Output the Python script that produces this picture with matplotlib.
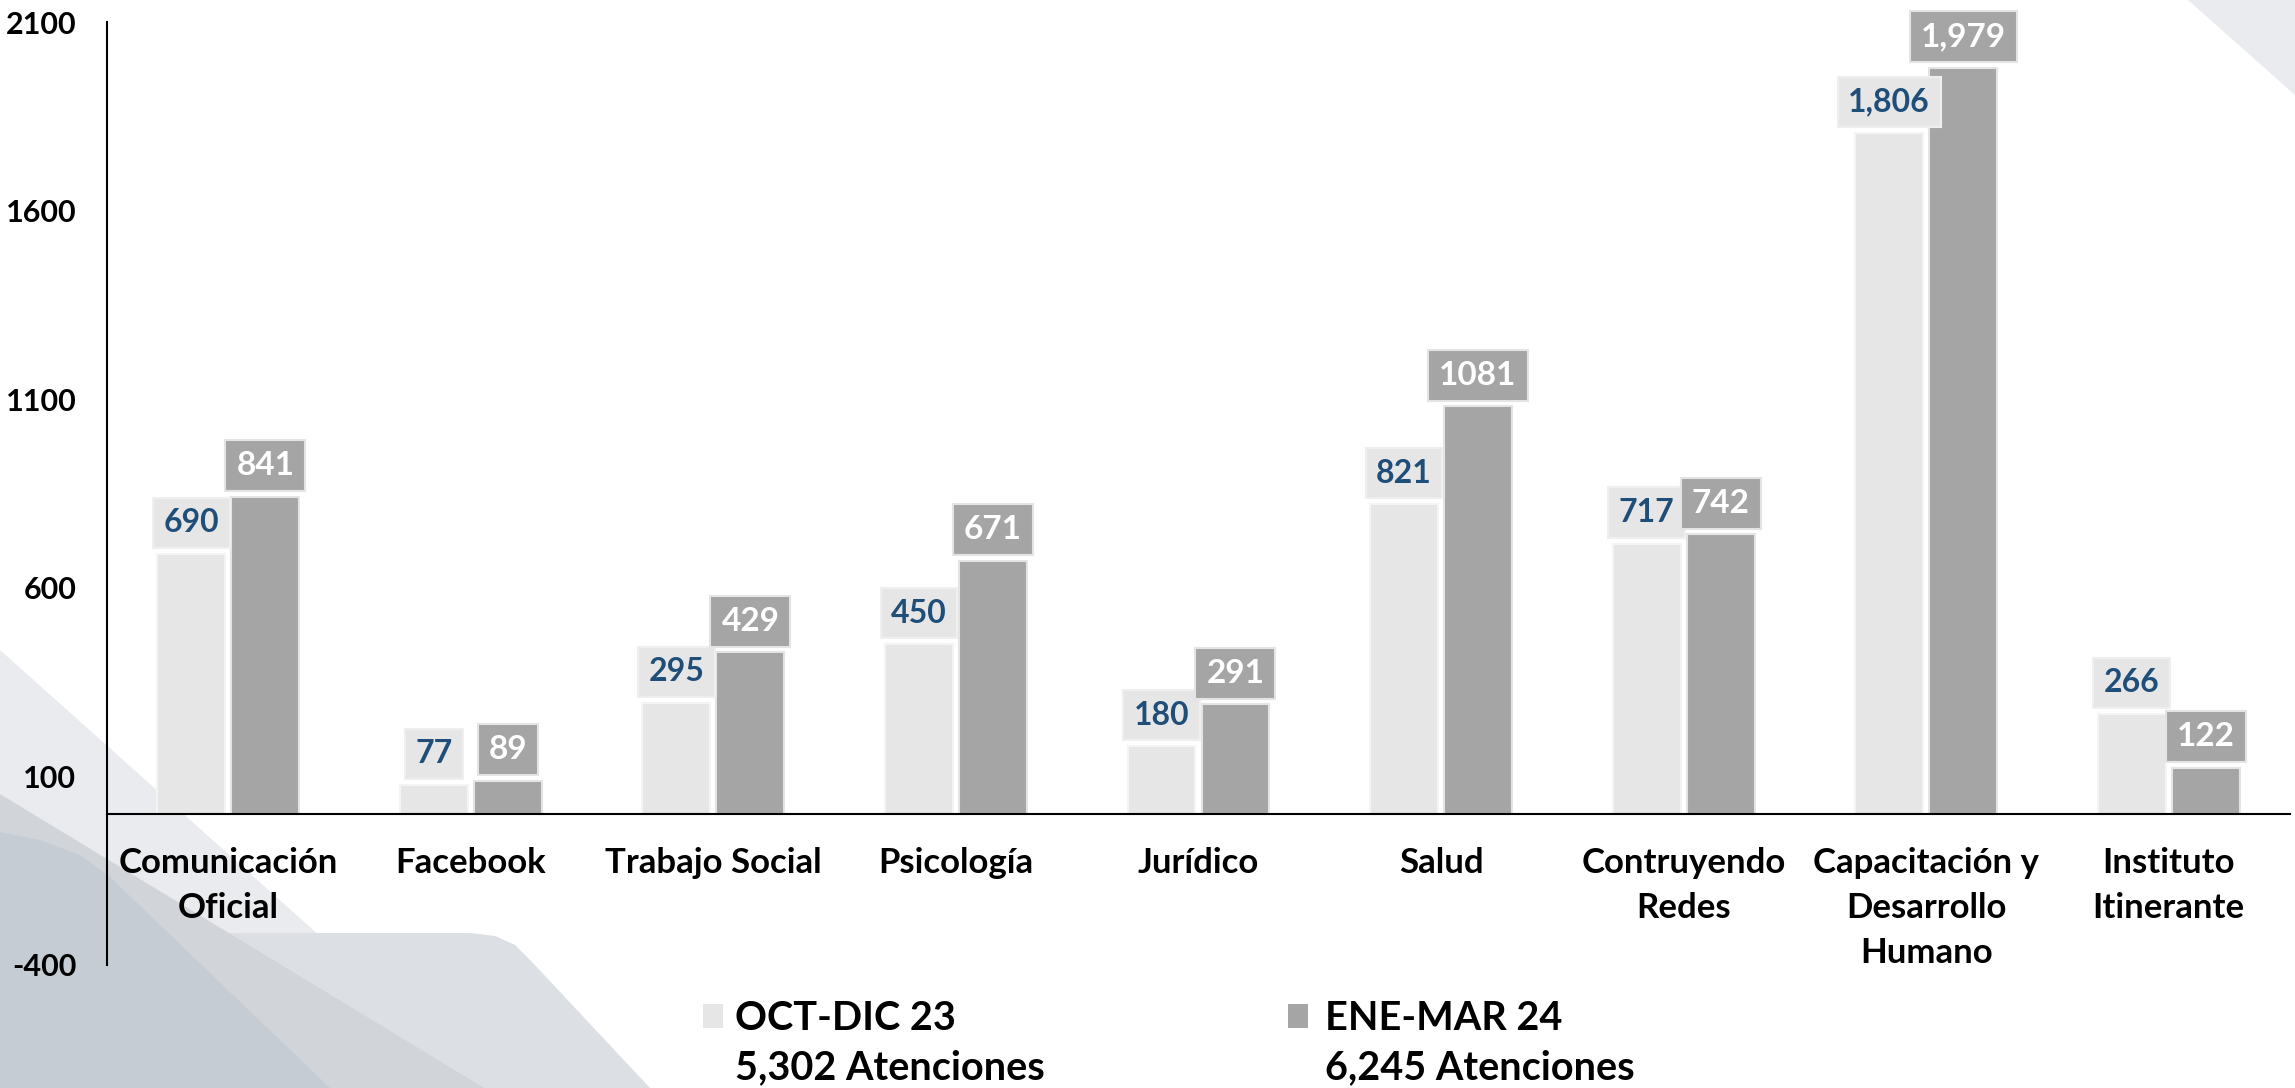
import matplotlib
matplotlib.use('Agg')
import matplotlib.pyplot as plt
from matplotlib.patches import Polygon, Rectangle
import numpy as np

plt.rcParams['font.family'] = ['Lato', 'DejaVu Sans']
plt.rcParams['font.weight'] = 'bold'
plt.rcParams['axes.unicode_minus'] = False

# datos
categorias = ['Comunicación\nOficial', 'Facebook', 'Trabajo Social', 'Psicología',
              'Jurídico', 'Salud', 'Contruyendo\nRedes',
              'Capacitación y\nDesarrollo\nHumano', 'Instituto\nItinerante']
oct_dic = [690, 77, 295, 450, 180, 821, 717, 1806, 266]
ene_mar = [841, 89, 429, 671, 291, 1081, 742, 1979, 122]
etiquetas_oct = ['690', '77', '295', '450', '180', '821', '717', '1,806', '266']
etiquetas_ene = ['841', '89', '429', '671', '291', '1081', '742', '1,979', '122']
series = ['OCT-DIC 23', 'ENE-MAR 24']
yticks = [-400, 100, 600, 1100, 1600, 2100]

c_claro = '#E6E6E6'
c_oscuro = '#A5A5A5'
c_azul = '#1F4E79'

W, H = 2295, 1088
fig = plt.figure(figsize=(W / 100, H / 100), dpi=100)


def px(pts):
    # pixeles de imagen (arriba-izquierda) -> coordenadas de figura
    return [(x / W, 1 - y / H) for x, y in pts]


# fondo decorativo
fondos = [
    ([(0, 650), (490, 1088), (0, 1088)], '#E9EBEE'),
    ([(0, 933), (470, 933), (495, 936), (515, 945), (532, 962), (650, 1088), (0, 1088)], '#DCDFE3'),
    ([(0, 794), (484, 1088), (0, 1088)], '#D1D5DA'),
    ([(0, 832), (40, 840), (80, 855), (110, 877), (330, 1088), (0, 1088)], '#C6CCD3'),
    ([(2188, 0), (2295, 0), (2295, 95)], '#E9EBEE'),
]
for pts, col in fondos:
    fig.add_artist(Polygon(px(pts), closed=True, transform=fig.transFigure,
                           facecolor=col, edgecolor='none', zorder=-10))

ax = fig.add_axes([107 / W, 1 - 965 / H, (2290 - 107) / W, (965 - 22) / H])
ax.patch.set_alpha(0)

x = np.arange(len(categorias))
off = 0.1525
ancho = 0.28
ax.bar(x - off, oct_dic, ancho, color=c_claro, edgecolor='#F4F4F4', linewidth=1.5, zorder=2)
ax.bar(x + off, ene_mar, ancho, color=c_oscuro, edgecolor='#E4E4E4', linewidth=1.5, zorder=2)

for xi, v, t in zip(x - off, oct_dic, etiquetas_oct):
    ax.annotate(t, (xi, v), xytext=(0, 12), textcoords='offset points',
                ha='center', va='bottom', fontsize=23, fontweight='bold', color=c_azul,
                bbox=dict(boxstyle='square,pad=0.33', fc=c_claro, ec='#EFEFEF', lw=1.5), zorder=3)
for xi, v, t in zip(x + off, ene_mar, etiquetas_ene):
    ax.annotate(t, (xi, v), xytext=(0, 12), textcoords='offset points',
                ha='center', va='bottom', fontsize=24, fontweight='bold', color='white',
                bbox=dict(boxstyle='square,pad=0.33', fc=c_oscuro, ec='#E4E4E4', lw=1.5), zorder=3)

for s in ['top', 'right']:
    ax.spines[s].set_visible(False)
ax.spines['bottom'].set_position(('data', 0))
for s in ['left', 'bottom']:
    ax.spines[s].set_color('black')
    ax.spines[s].set_linewidth(1.5)
    ax.spines[s].set_zorder(4)

ax.set_xlim(-0.5, len(categorias) - 0.5)
ax.set_ylim(-400, 2100)
ax.set_yticks(yticks)
ax.set_xticks(x)
ax.set_xticklabels(categorias, fontsize=25, fontweight='bold', linespacing=1.5)
ax.tick_params(axis='x', length=0, pad=24)
ax.tick_params(axis='y', length=0, pad=22, labelsize=22)

# leyenda
totales = [sum(oct_dic), sum(ene_mar)]
for nombre, tot, col, xm, xt in zip(series, totales, [c_claro, c_oscuro], [703, 1288], [735, 1325]):
    fig.add_artist(Rectangle((xm / W, 1 - 1028 / H), 20 / W, 24 / H, transform=fig.transFigure,
                             facecolor=col, edgecolor='none'))
    fig.text(xt / W, 1 - 1030 / H, nombre, fontsize=28.5, fontweight='bold', va='baseline')
    fig.text(xt / W, 1 - 1079 / H, f'{tot:,} Atenciones', fontsize=28.5, fontweight='bold', va='baseline')

fig.savefig('out.png', dpi=100)
